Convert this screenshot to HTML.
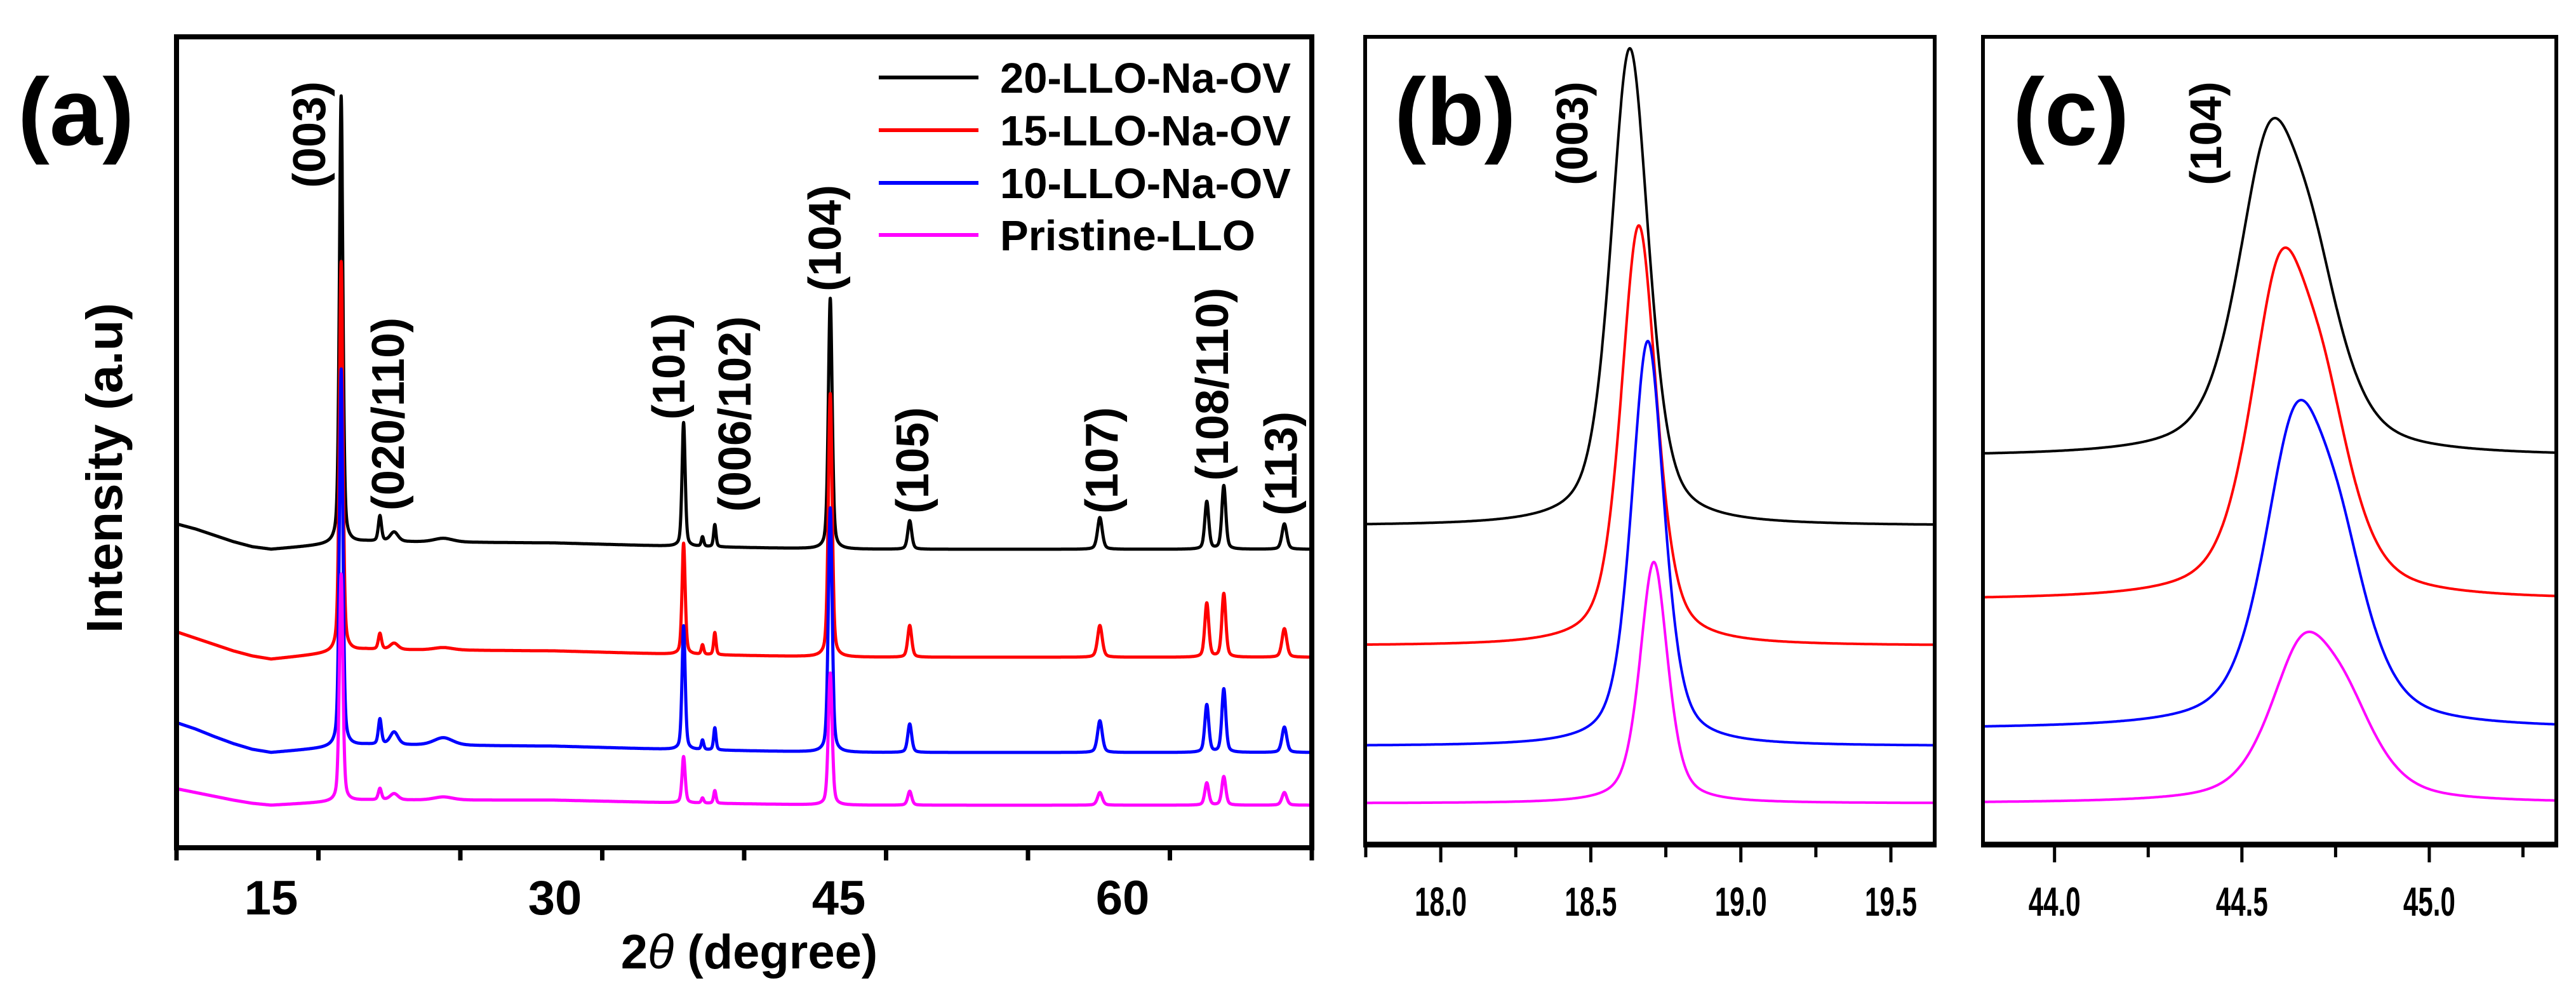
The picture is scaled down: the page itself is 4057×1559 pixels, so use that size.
<!DOCTYPE html>
<html><head><meta charset="utf-8"><style>
html,body{margin:0;padding:0;background:#fff;}
svg{display:block;}
text{font-family:"Liberation Sans",Arial,sans-serif;font-weight:bold;fill:#000;}
</style></head><body>
<svg id="fig" xmlns="http://www.w3.org/2000/svg" width="4057" height="1559" viewBox="0 0 4057 1559">
<rect x="0" y="0" width="4057" height="1559" fill="#fff"/>
</svg>
<script>
// ---------- data ----------
const seriesNames = ['20-LLO-Na-OV','15-LLO-Na-OV','10-LLO-Na-OV','Pristine-LLO'];
// panel (a)
const aXTicks = [15, 30, 45, 60];
const aPeakPos = [18.7, 20.75, 21.5, 24.1, 36.8, 37.8, 38.45, 44.55, 48.75, 58.8, 64.45, 65.35, 68.55];
const aPeakWidth = [0.22, 0.2, 0.5, 1.2, 0.2, 0.15, 0.15, 0.24, 0.25, 0.3, 0.25, 0.25, 0.3];
const aHeights20 = [705, 40, 15, 6, 195, 15, 35, 395, 45, 50, 75, 100, 40];
const aHeights15 = [615, 25, 10, 4, 175, 15, 35, 415, 50, 50, 85, 100, 45];
const aHeights10 = [595, 40, 20, 12, 195, 15, 35, 385, 45, 50, 75, 100, 40];
const aHeightsP = [358, 18, 10, 5, 73, 8, 20, 208, 22, 20, 35, 45, 20];
const aBaselines = [470, 300, 150, 67];
const aBgX = [10, 11, 12, 13, 14, 15, 20, 30, 36, 45, 70];
const aBg20 = [40, 32, 22, 12, 4, 0, 12, 10, 5, 0, 0];
const aBg15 = [40, 30, 20, 10, 2, -3, 12, 10, 5, 0, 0];
const aBg10 = [47, 37, 25, 14, 5, 0, 12, 10, 5, 0, 0];
const aBgP = [26, 20, 14, 8, 3, 0, 8, 8, 4, 0, 0];
const aPeakLabels = ['(003)','(020/110)','(101)','(006/102)','(104)','(105)','(107)','(108/110)','(113)'];
// panel (b)
const bXTicks = [18.0, 18.5, 19.0, 19.5];
const bPeakPos = [18.63, 18.66, 18.69, 18.71];
const bPeakHeight = [752, 662, 638, 380];
const bPeakWidth = [0.15, 0.14, 0.13, 0.11];
const bBaselines = [502, 313, 155, 65];
// panel (c)
const cXTicks = [44.0, 44.5, 45.0];
const cPeakPos = [44.57, 44.6, 44.64, 44.66];
const cPeakHeight = [533, 555, 518, 270];
const cPeakWidth = [0.2, 0.19, 0.2, 0.21];
const cBaselines = [611, 385, 182, 65];

const colors = ['#000000','#ff0000','#0000ff','#ff00ff'];
const NS = 'http://www.w3.org/2000/svg';
const svg = document.getElementById('fig');
function el(tag, attrs, parent){const e=document.createElementNS(NS,tag);for(const k in attrs)e.setAttribute(k,attrs[k]);(parent||svg).appendChild(e);return e;}
function lin(d0,d1,r0,r1){return v=>r0+(v-d0)*(r1-r0)/(d1-d0);}
function pv(x,c,w,eta){const h=w/2,d=(x-c)/h;return eta/(1+d*d)+(1-eta)*Math.exp(-Math.LN2*d*d);}
function interp(xs,ys,x){if(x<=xs[0])return ys[0];for(let i=1;i<xs.length;i++){if(x<=xs[i]){const t=(x-xs[i-1])/(xs[i]-xs[i-1]);return ys[i-1]+t*(ys[i]-ys[i-1]);}}return ys[ys.length-1];}

// ---------- panel (a) ----------
const aX = lin(10,70,278,2066);
const aY = lin(0,1277,1335,58);
const gA = el('g',{});


const aH=[aHeights20,aHeights15,aHeights10,aHeightsP], aB=[aBg20,aBg15,aBg10,aBgP];
for(let s=0;s<4;s++){
  let d='';
  for(let x=10;x<=70.0001;x+=0.01){
    let v=aBaselines[s]+interp(aBgX,aB[s],x);
    for(let p=0;p<aPeakPos.length;p++) v+=aH[s][p]*pv(x,aPeakPos[p],aPeakWidth[p],0.4);
    d+=(d?'L':'M')+aX(x).toFixed(1)+' '+aY(v).toFixed(1);
  }
  const path=el('path',{d:d,fill:'none',stroke:colors[s],'stroke-width':5,'stroke-linejoin':'round'},gA);
  
  
}
// frame
const fa=el('rect',{x:278,y:58,width:1788,height:1277,fill:'none',stroke:'#000','stroke-width':8},gA);


for(let t=10;t<=70;t+=7.5){
  const major=aXTicks.includes(t);
  el('line',{x1:aX(t),x2:aX(t),y1:1335,y2:major?1365:1355,stroke:'#000','stroke-width':7},gA);
}
aXTicks.forEach(t=>{
  const tx=el('text',{x:aX(t),y:1440,'font-size':76,'text-anchor':'middle'},gA);
  tx.textContent=t;
  
  
});
const xt=el('text',{x:1180,y:1525,'font-size':76,'text-anchor':'middle'},gA);
xt.innerHTML='2<tspan font-style="italic" font-weight="normal">θ</tspan> (degree)';


const yt=el('text',{x:0,y:0,'font-size':80,'text-anchor':'middle',transform:'translate(192,737) rotate(-90)'},gA);
yt.textContent='Intensity (a.u)';


const la=el('text',{x:28,y:228,'font-size':150},gA);
la.textContent='(a)';


// peak labels [x, yCenter]
const aLabelPos=[[512,212],[636,652],[1078,577],[1182,652],[1324,375],[1462,725],[1760,725],[1934,605],[2042,730]];
aPeakLabels.forEach((t,i)=>{
  const e=el('text',{x:0,y:0,'font-size':72,'text-anchor':'middle',transform:`translate(${aLabelPos[i][0]},${aLabelPos[i][1]}) rotate(-90)`},gA);
  e.textContent=t;
  
  
});
// legend
const legY=[122,205,288,370];
seriesNames.forEach((n,i)=>{
  const g=el('g',{},gA);
  
  
  el('line',{x1:1384,x2:1541,y1:legY[i],y2:legY[i],stroke:colors[i],'stroke-width':6},g);
  const t=el('text',{x:1575,y:legY[i]+24,'font-size':67},g);
  t.textContent=n;
});

// ---------- panel (b) / (c) helper ----------
function zoomPanel(name,x0,x1,dom0,dom1,ticks,minorStep,pos,hts,wid,bases,doublet,label,labelX,peakLab,peakLabX){
  const X=lin(dom0,dom1,x0,x1), Y=lin(0,1272,1330,58);
  const g=el('g',{});
  
  
  for(let s=0;s<4;s++){
    const prof=x=>pv(x,pos[s],wid[s],0.5)+(doublet?0.5*pv(x,pos[s]+0.12,wid[s],0.5):0);
    let mx=0;for(let x=pos[s]-0.3;x<pos[s]+0.3;x+=0.002)mx=Math.max(mx,prof(x));
    let d='';
    for(let x=dom0;x<=dom1+1e-6;x+=(dom1-dom0)/900){
      const v=bases[s]+hts[s]*prof(x)/mx;
      d+=(d?'L':'M')+X(x).toFixed(1)+' '+Y(v).toFixed(1);
    }
    const p=el('path',{d:d,fill:'none',stroke:colors[s],'stroke-width':4,'stroke-linejoin':'round'},g);
    
    
  }
  el('rect',{x:x0,y:58,width:x1-x0,height:1272,fill:'none',stroke:'#000','stroke-width':6},g);
  el('line',{x1:x0-3,x2:x1+3,y1:1330,y2:1330,stroke:'#000','stroke-width':9},g);
  const start=Math.ceil(dom0/minorStep)*minorStep;
  for(let t=start;t<=dom1;t+=minorStep){
    const major=ticks.some(v=>Math.abs(v-t)<1e-6);
    el('line',{x1:X(t),x2:X(t),y1:1330,y2:major?1358:1350,stroke:'#000','stroke-width':5},g);
  }
  ticks.forEach(t=>{
    const e=el('text',{x:X(t),y:1442,'font-size':64,'text-anchor':'middle',textLength:82,lengthAdjust:'spacingAndGlyphs'},g);
    e.textContent=t.toFixed(1);
    
    
  });
  const l=el('text',{x:labelX,y:228,'font-size':150},g);
  l.textContent=label;
  
  
  const pl=el('text',{x:0,y:0,'font-size':70,'text-anchor':'middle',transform:`translate(${peakLabX},210) rotate(-90)`},g);
  pl.textContent=peakLab;
  
  
}
zoomPanel('panel-b',2150,3047,17.748,19.646,bXTicks,0.25,bPeakPos,bPeakHeight,bPeakWidth,bBaselines,false,'(b)',2196,'(003)',2500);
zoomPanel('panel-c',3123,4026,43.809,45.339,cXTicks,0.25,cPeakPos,cPeakHeight,cPeakWidth,cBaselines,true,'(c)',3170,'(104)',3498);
</script>
</body></html>
